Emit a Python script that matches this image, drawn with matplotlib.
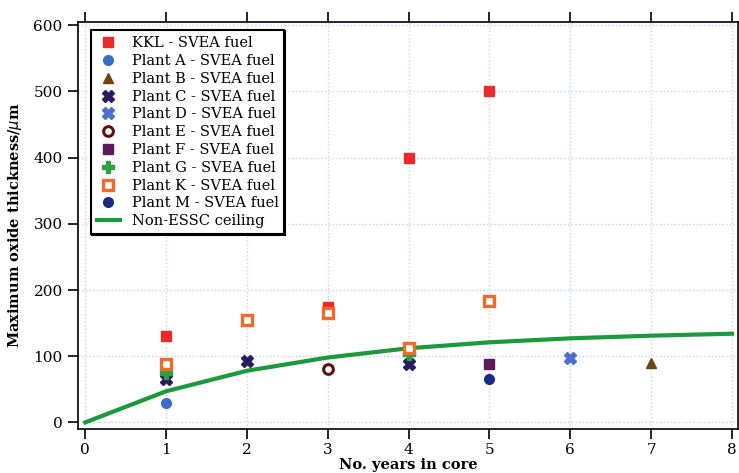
import matplotlib
matplotlib.use("Agg")
import matplotlib.pyplot as plt

plt.rcParams['font.family'] = ['DejaVu Serif']

kkl_x = [1, 3, 4, 5]
kkl_y = [130, 175, 400, 500]
a_x = [1]; a_y = [30]
b_x = [7]; b_y = [89]
c_x = [1, 2, 4]; c_y = [65, 92, 88]
d_x = [6]; d_y = [97]
e_x = [3]; e_y = [81]
f_x = [5]; f_y = [88]
g_x = [1, 4]; g_y = [75, 103]
k_x = [1, 2, 3, 4, 5]; k_y = [88, 154, 165, 112, 184]
m_x = [5]; m_y = [65]
ceil_x = [0, 1, 2, 3, 4, 5, 6, 7, 8]
ceil_y = [0, 47, 78, 98, 112, 121, 127, 131, 134]

fig = plt.figure(figsize=(7.39, 4.73), dpi=100)
ax = fig.add_axes([78/739, 1-429/473, (738-78)/739, (429-22)/473])

ms = 7
ax.plot(kkl_x, kkl_y, 's', color='#ec2a2a', ms=ms, mec='#ec2a2a', label='KKL - SVEA fuel', zorder=3)
ax.plot(a_x, a_y, 'o', color='#3b6cc8', ms=ms, label='Plant A - SVEA fuel', zorder=3)
ax.plot(b_x, b_y, '^', color='#6b4515', ms=ms, label='Plant B - SVEA fuel', zorder=3)
ax.plot(c_x, c_y, 'X', color='#2a1a60', ms=ms+1, label='Plant C - SVEA fuel', zorder=3)
ax.plot(d_x, d_y, 'X', color='#4f6fd0', ms=ms+1, label='Plant D - SVEA fuel', zorder=3)
ax.plot(e_x, e_y, 'o', mfc='white', mec='#5a1212', mew=2.2, ms=ms, label='Plant E - SVEA fuel', zorder=3)
ax.plot(f_x, f_y, 's', color='#5c1a5c', ms=ms, label='Plant F - SVEA fuel', zorder=3)
ax.plot(g_x, g_y, 'P', color='#2aa040', ms=ms+1, label='Plant G - SVEA fuel', zorder=3)
ax.plot(k_x, k_y, 's', mfc='white', mec='#f26a2a', mew=2.4, ms=ms, label='Plant K - SVEA fuel', zorder=3)
ax.plot(m_x, m_y, 'o', color='#1c2a85', ms=ms, label='Plant M - SVEA fuel', zorder=3)
ax.plot(ceil_x, ceil_y, '-', color='#1a9a3a', lw=3, label='Non-ESSC ceiling', zorder=2)

ax.set_xlim(-0.09, 8.075)
ax.set_ylim(-10, 605)
ax.set_xticks(range(0, 9))
ax.set_yticks(range(0, 601, 100))
ax.grid(True, color='#c8d0f0', linestyle=':', linewidth=1.0)
ax.set_axisbelow(True)
ax.tick_params(direction='out', length=7, width=1.2, labelsize=11, top=True, labeltop=False)
ax.tick_params(axis='x', pad=3)
ax.tick_params(axis='y', pad=4)
for s in ax.spines.values():
    s.set_linewidth(1.2)

ax.set_xlabel('No. years in core', fontweight='bold', fontsize=10.5, labelpad=0.5)
ax.set_ylabel('Maximum oxide thickness/$\\mu$m', fontweight='bold', fontsize=10.5, labelpad=7)

leg = ax.legend(loc='upper left', bbox_to_anchor=(0.013, 0.99), fontsize=10.5, frameon=True,
                fancybox=False, shadow={'color': 'black', 'alpha': 1.0, 'ox': 0.5, 'oy': -0.5},
                handlelength=1.6, handletextpad=0.8,
                borderpad=0.4, labelspacing=0.26, borderaxespad=0.3, framealpha=1)
leg.get_frame().set_edgecolor('black')
leg.get_frame().set_linewidth(1.5)

fig.savefig('out.png', dpi=100)
